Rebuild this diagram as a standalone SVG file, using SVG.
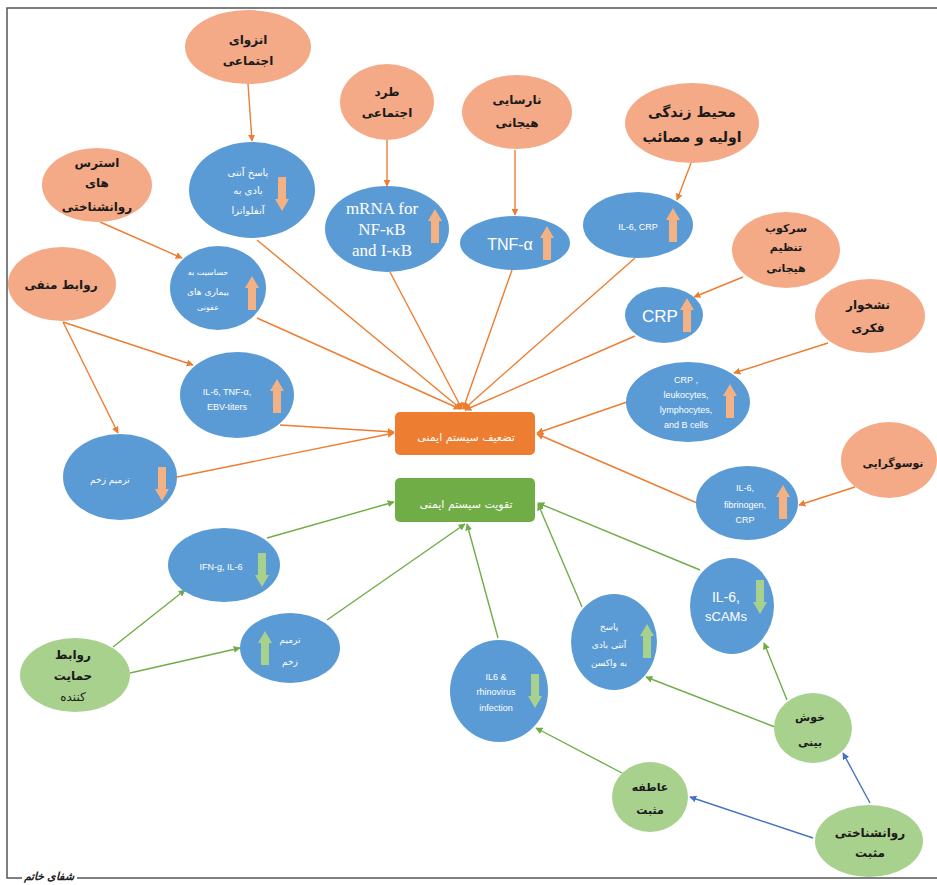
<svg xmlns="http://www.w3.org/2000/svg" xmlns:xlink="http://www.w3.org/1999/xlink" width="937" height="885" viewBox="0 0 937 885">
<style>
.sal{fill:#F4AA87;}
.blu{fill:#5B9BD5;}
.grn{fill:#A9D18E;}
.tk{font-family:"DejaVu Sans",sans-serif;font-size:12px;font-weight:bold;fill:#1a1a1a;text-anchor:middle;}
.tw{font-family:"DejaVu Sans",sans-serif;font-size:10px;fill:#ffffff;text-anchor:middle;}
.ts{font-family:"Liberation Sans",sans-serif;font-size:9px;fill:#ffffff;text-anchor:middle;}
.tr{font-family:"Liberation Serif",serif;font-size:17px;fill:#ffffff;text-anchor:middle;}
.lo{stroke:#ED7D31;stroke-width:1.4;fill:none;marker-end:url(#mo);}
.lg{stroke:#70AD47;stroke-width:1.4;fill:none;marker-end:url(#mg);}
.lb{stroke:#4472C4;stroke-width:1.4;fill:none;marker-end:url(#mb);}
</style>
<defs>
<marker id="mo" viewBox="0 0 10 10" refX="9" refY="5" markerWidth="5" markerHeight="5" orient="auto"><path d="M0,0 L10,5 L0,10 Z" fill="#ED7D31"/></marker>
<marker id="mg" viewBox="0 0 10 10" refX="9" refY="5" markerWidth="5" markerHeight="5" orient="auto"><path d="M0,0 L10,5 L0,10 Z" fill="#70AD47"/></marker>
<marker id="mb" viewBox="0 0 10 10" refX="9" refY="5" markerWidth="5" markerHeight="5" orient="auto"><path d="M0,0 L10,5 L0,10 Z" fill="#4472C4"/></marker>
<path id="upO" d="M-4,17 L4,17 L4,-5 L7,-5 L0,-17 L-7,-5 L-4,-5 Z" fill="#F4B183"/>
<path id="dnO" d="M-4,-17 L4,-17 L4,5 L7,5 L0,17 L-7,5 L-4,5 Z" fill="#F4B183"/>
<path id="upG" d="M-4,17 L4,17 L4,-5 L7,-5 L0,-17 L-7,-5 L-4,-5 Z" fill="#A9D18E"/>
<path id="dnG" d="M-4,-17 L4,-17 L4,5 L7,5 L0,17 L-7,5 L-4,5 Z" fill="#A9D18E"/>
</defs>
<rect width="937" height="885" fill="#ffffff"/>
<g id="frame" stroke="#555555" stroke-width="1.5" fill="none">
<path d="M937,8 L7,8 L7,878 L22,878"/>
<path d="M77,878 L937,878"/>
</g>
<text x="49" y="880" style="font-family:'DejaVu Serif',serif;font-size:11px;font-style:italic;font-weight:bold;fill:#222;text-anchor:middle;">شفای خاتم</text>

<g id="connectors">
<line class="lo" x1="248" y1="84" x2="252" y2="141"/>
<line class="lo" x1="387" y1="140" x2="387" y2="186"/>
<line class="lo" x1="515" y1="150" x2="515" y2="215"/>
<line class="lo" x1="691" y1="163" x2="677" y2="200"/>
<line class="lo" x1="743" y1="277" x2="694" y2="297"/>
<line class="lo" x1="828" y1="343" x2="734" y2="373"/>
<line class="lo" x1="855" y1="487" x2="799" y2="505"/>
<line class="lo" x1="100" y1="222" x2="182" y2="258"/>
<line class="lo" x1="63" y1="322" x2="193" y2="365"/>
<line class="lo" x1="63" y1="322" x2="118" y2="433"/>
<line class="lo" x1="257" y1="240" x2="461" y2="409"/>
<line class="lo" x1="390" y1="272" x2="462" y2="409"/>
<line class="lo" x1="512" y1="270" x2="463" y2="409"/>
<line class="lo" x1="635" y1="258" x2="464" y2="409"/>
<line class="lo" x1="635" y1="336" x2="465" y2="410"/>
<line class="lo" x1="257" y1="318" x2="460" y2="409"/>
<line class="lo" x1="280" y1="425" x2="394" y2="432"/>
<line class="lo" x1="177" y1="477" x2="394" y2="433"/>
<line class="lo" x1="627" y1="402" x2="537" y2="433"/>
<line class="lo" x1="697" y1="503" x2="537" y2="434"/>
<line class="lg" x1="267" y1="538" x2="394" y2="502"/>
<line class="lg" x1="327" y1="620" x2="465" y2="524"/>
<line class="lg" x1="498" y1="638" x2="467" y2="524"/>
<line class="lg" x1="582" y1="607" x2="538" y2="504"/>
<line class="lg" x1="700" y1="570" x2="538" y2="503"/>
<line class="lg" x1="113" y1="647" x2="185" y2="590"/>
<line class="lg" x1="130" y1="673" x2="240" y2="648"/>
<line class="lg" x1="787" y1="700" x2="764" y2="643"/>
<line class="lg" x1="775" y1="727" x2="646" y2="677"/>
<line class="lg" x1="622" y1="773" x2="536" y2="728"/>
<line class="lb" x1="813" y1="838" x2="690" y2="797"/>
<line class="lb" x1="870" y1="803" x2="843" y2="753"/>
</g>

<g id="n-enzeva"><ellipse class="sal" cx="248" cy="47" rx="63" ry="37"/><text class="tk" x="248" y="44">انزوای</text><text class="tk" x="248" y="65">اجتماعی</text></g>
<g id="n-tard"><ellipse class="sal" cx="387" cy="102" rx="47" ry="38"/><text class="tk" x="387" y="96">طرد</text><text class="tk" x="387" y="117">اجتماعی</text></g>
<g id="n-stress"><ellipse class="sal" cx="97" cy="185" rx="55" ry="37"/><text class="tk" x="97" y="167">استرس</text><text class="tk" x="97" y="187">های</text><text class="tk" x="97" y="211">روانشناختی</text></g>
<g id="n-narsaei"><ellipse class="sal" cx="517" cy="112" rx="55" ry="37"/><text class="tk" x="517" y="104">نارسایی</text><text class="tk" x="517" y="127">هیجانی</text></g>
<g id="n-mohit"><ellipse class="sal" cx="692" cy="123" rx="67" ry="40"/><text class="tk" style="font-size:14px" x="692" y="117">محیط زندگی</text><text class="tk" style="font-size:14px" x="692" y="142">اولیه و مصائب</text></g>
<g id="n-sarkoob"><ellipse class="sal" cx="786" cy="250" rx="54" ry="38"/><text class="tk" style="font-size:11px" x="786" y="232">سرکوب</text><text class="tk" style="font-size:11px" x="786" y="251">تنظیم</text><text class="tk" style="font-size:11px" x="786" y="272">هیجانی</text></g>
<g id="n-nashkhar"><ellipse class="sal" cx="870" cy="316" rx="55" ry="37"/><text class="tk" x="868" y="309">نشخوار</text><text class="tk" x="868" y="332">فکری</text></g>
<g id="n-ravabet-manfi"><ellipse class="sal" cx="62" cy="284" rx="54" ry="37"/><text class="tk" x="61" y="289">روابط منفی</text></g>
<g id="n-noso"><ellipse class="sal" cx="889" cy="460" rx="48" ry="38"/><text class="tk" style="font-size:11px" x="893" y="467">نوسوگرایی</text></g>

<g id="n-pasokh-anfl"><ellipse class="blu" cx="252" cy="190" rx="63" ry="48"/><text class="tw" x="248" y="176">پاسخ آنتی</text><text class="tw" x="248" y="194">بادی به</text><text class="tw" x="248" y="214">آنفلوانزا</text><use xlink:href="#dnO" transform="translate(282,194)"/></g>
<g id="n-mrna"><ellipse class="blu" cx="387" cy="229" rx="62" ry="43"/><text class="tr" x="382" y="214">mRNA for</text><text class="tr" x="382" y="235">NF-κB</text><text class="tr" x="382" y="256">and I-κB</text><use xlink:href="#upO" transform="translate(435,226)"/></g>
<g id="n-tnf"><ellipse class="blu" cx="515" cy="243" rx="55" ry="27"/><text x="510" y="250" style="font-family:'Liberation Sans',sans-serif;font-size:16px;fill:#fff;text-anchor:middle;">TNF-α</text><use xlink:href="#upO" transform="translate(547,243)"/></g>
<g id="n-il6crp"><ellipse class="blu" cx="638" cy="225" rx="55" ry="33"/><text class="ts" x="638" y="230">IL-6, CRP</text><use xlink:href="#upO" transform="translate(673,225)"/></g>
<g id="n-crp"><ellipse class="blu" cx="664" cy="315" rx="39" ry="28"/><text x="660" y="322" style="font-family:'Liberation Sans',sans-serif;font-size:17px;fill:#fff;text-anchor:middle;">CRP</text><use xlink:href="#upO" transform="translate(687,315)"/></g>
<g id="n-hassasiat"><ellipse class="blu" cx="218" cy="288" rx="48" ry="42"/><text class="tw" style="font-size:8px" x="208" y="275">حساسیت به</text><text class="tw" style="font-size:9px" x="208" y="295">بیماری های</text><text class="tw" style="font-size:8px" x="208" y="310">عفونی</text><use xlink:href="#upO" transform="translate(252,293)"/></g>
<g id="n-il6tnf"><ellipse class="blu" cx="237" cy="395" rx="57" ry="43"/><text class="ts" x="227" y="395">IL-6, TNF-α,</text><text class="ts" x="227" y="410">EBV-titers</text><use xlink:href="#upO" transform="translate(277,396)"/></g>
<g id="n-tarmim-o"><ellipse class="blu" cx="120" cy="477" rx="57" ry="43"/><text class="tw" style="font-size:9px" x="110" y="483">ترمیم زخم</text><use xlink:href="#dnO" transform="translate(162,484)"/></g>
<g id="n-crpleuk"><ellipse class="blu" cx="688" cy="402" rx="62" ry="40"/><text class="ts" x="686" y="383">CRP ,</text><text class="ts" x="686" y="398">leukocytes,</text><text class="ts" x="686" y="413">lymphocytes,</text><text class="ts" x="686" y="428">and B cells</text><use xlink:href="#upO" transform="translate(730,401)"/></g>
<g id="n-il6fib"><ellipse class="blu" cx="747" cy="503" rx="51" ry="37"/><text class="ts" x="745" y="491">IL-6,</text><text class="ts" x="745" y="508">fibrinogen,</text><text class="ts" x="745" y="523">CRP</text><use xlink:href="#upO" transform="translate(783,502)"/></g>

<g id="n-tazeif"><rect x="395" y="412" width="140" height="43" rx="5" fill="#ED7D31"/><text class="tw" style="font-size:11px" x="466" y="441">تضعیف سیستم ایمنی</text></g>
<g id="n-taghviat"><rect x="395" y="478" width="140" height="44" rx="5" fill="#70AD47"/><text class="tw" style="font-size:11px" x="466" y="508">تقویت سیستم ایمنی</text></g>

<g id="n-ifng"><ellipse class="blu" cx="224" cy="565" rx="56" ry="37"/><text class="ts" x="221" y="570">IFN-g, IL-6</text><use xlink:href="#dnG" transform="translate(262,570)"/></g>
<g id="n-tarmim-g"><ellipse class="blu" cx="290" cy="648" rx="50" ry="35"/><text class="tw" style="font-size:9px" x="290" y="643">ترمیم</text><text class="tw" style="font-size:9px" x="290" y="665">زخم</text><use xlink:href="#upG" transform="translate(265,648)"/></g>
<g id="n-rhino"><ellipse class="blu" cx="499" cy="691" rx="49" ry="51"/><text class="ts" x="496" y="680">IL6 &amp;</text><text class="ts" x="496" y="695">rhinovirus</text><text class="ts" x="496" y="711">infection</text><use xlink:href="#dnG" transform="translate(535,691)"/></g>
<g id="n-vaccine"><ellipse class="blu" cx="614" cy="642" rx="43" ry="48"/><text class="tw" style="font-size:9px" x="609" y="630">پاسخ</text><text class="tw" style="font-size:9px" x="609" y="648">آنتی بادی</text><text class="tw" style="font-size:9px" x="609" y="666">به واکسن</text><use xlink:href="#upG" transform="translate(647,641)"/></g>
<g id="n-scams"><ellipse class="blu" cx="732" cy="606" rx="42" ry="48"/><text x="726" y="602" style="font-family:'Liberation Sans',sans-serif;font-size:14px;fill:#fff;text-anchor:middle;">IL-6,</text><text x="726" y="621" style="font-family:'Liberation Sans',sans-serif;font-size:13px;fill:#fff;text-anchor:middle;">sCAMs</text><use xlink:href="#dnG" transform="translate(760,597)"/></g>

<g id="n-hemayat"><ellipse class="grn" cx="75" cy="675" rx="55" ry="37"/><text class="tk" x="73" y="659">روابط</text><text class="tk" x="73" y="680">حمایت</text><text class="tk" style="font-weight:normal" x="73" y="701">کننده</text></g>
<g id="n-khoshbini"><ellipse class="grn" cx="813" cy="728" rx="39" ry="35"/><text class="tk" style="font-size:11px" x="810" y="721">خوش</text><text class="tk" style="font-size:11px" x="810" y="746">بینی</text></g>
<g id="n-atefe"><ellipse class="grn" cx="650" cy="797" rx="38" ry="35"/><text class="tk" style="font-size:11px" x="650" y="791">عاطفه</text><text class="tk" style="font-size:11px" x="650" y="814">مثبت</text></g>
<g id="n-ravanshenasi"><ellipse class="grn" cx="869" cy="841" rx="54" ry="36"/><text class="tk" x="870" y="837">روانشناختی</text><text class="tk" x="870" y="857">مثبت</text></g>
</svg>
